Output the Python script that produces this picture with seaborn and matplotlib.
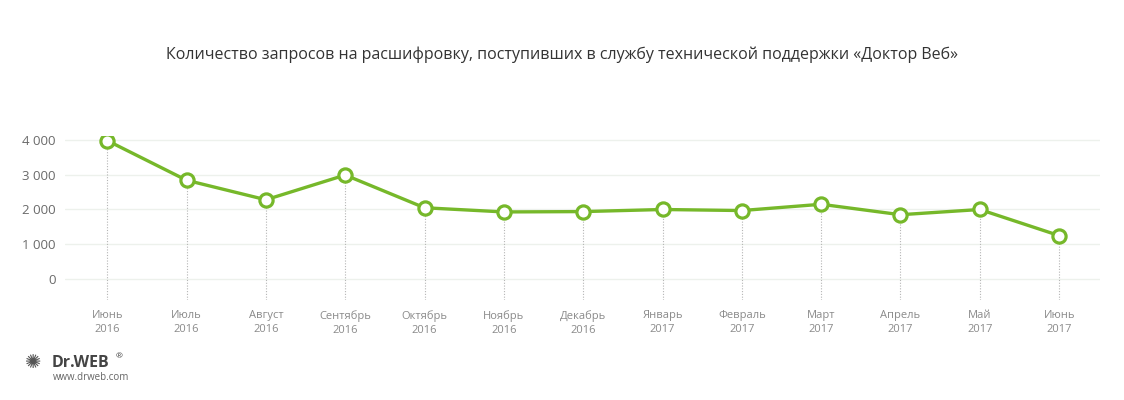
import matplotlib
matplotlib.use("Agg")
import matplotlib.pyplot as plt
import numpy as np
import pandas as pd
import seaborn as sns

# data
months = ["Июнь", "Июль", "Август", "Сентябрь", "Октябрь", "Ноябрь", "Декабрь",
          "Январь", "Февраль", "Март", "Апрель", "Май", "Июнь"]
years = ["2016"] * 7 + ["2017"] * 6
requests = [3980, 2840, 2280, 2990, 2050, 1930, 1940, 2000, 1970, 2150, 1850, 2000, 1250]
y_ticks = [0, 1000, 2000, 3000, 4000]

title = "Количество запросов на расшифровку, поступивших в службу технической поддержки «Доктор Веб»"

df = pd.DataFrame({"idx": np.arange(len(requests)), "value": requests})

sns.set_theme(style="white")
plt.rcParams["font.family"] = ["Open Sans", "DejaVu Sans"]

green = "#76b82a"

fig = plt.figure(figsize=(11.24, 4.0), dpi=100)
ax = fig.add_axes([0.058, 0.25, 0.921, 0.409])

# horizontal gridlines
for t in y_ticks:
    ax.axhline(t, color="#edf1ec", lw=1.0, zorder=0)

# dotted drop lines from each point down
ax.vlines(df["idx"], -600, df["value"], colors="#b5b5b5", linestyles=(0, (1, 1.5)),
          lw=0.8, zorder=1)

sns.lineplot(data=df, x="idx", y="value", ax=ax, color=green, lw=2.4,
             marker="o", markersize=9.5, markerfacecolor="white",
             markeredgecolor=green, markeredgewidth=2.3, zorder=3)

ax.set_xlim(-0.53, 12.52)
ax.set_ylim(-600, 4100)
ax.set_yticks(y_ticks)
ax.set_yticklabels([f"{t:,}".replace(",", " ") for t in y_ticks],
                   fontsize=9.5, color="#6a6a6a")
ax.set_xticks(df["idx"])
ax.set_xticklabels([f"{m}\n{y}" for m, y in zip(months, years)],
                   fontsize=8, color="#8a8a8a", linespacing=1.4)
ax.tick_params(axis="y", length=0, pad=7)
ax.tick_params(axis="x", length=0, pad=7)
ax.set_xlabel("")
ax.set_ylabel("")
for s in ax.spines.values():
    s.set_visible(False)

fig.text(0.5, 0.862, title, ha="center", va="center", fontsize=11.5, color="#333333")

# logo block
fig.text(0.022, 0.093, "✺", ha="left", va="center", fontsize=14, color="#555555",
         family=["DejaVu Sans"], fontweight="bold")
fig.text(0.046, 0.093, "Dr.WEB", ha="left", va="center", fontsize=11.5,
         color="#444444", fontweight="bold")
fig.text(0.1025, 0.108, "®", ha="left", va="center", fontsize=6, color="#444444")
fig.text(0.047, 0.055, "www.drweb.com", ha="left", va="center", fontsize=7,
         color="#666666")

fig.savefig("out.png", dpi=100)
